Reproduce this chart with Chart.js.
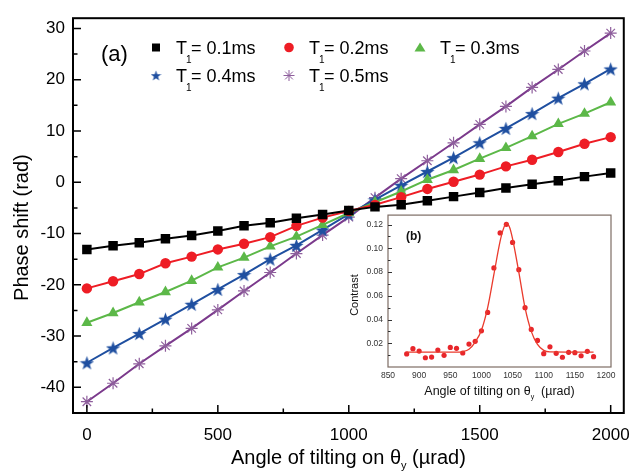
<!DOCTYPE html>
<html>
<head>
<meta charset="utf-8">
<script src="https://cdn.jsdelivr.net/npm/chart.js@4.4.1/dist/chart.umd.min.js"></script>
<style>
  html, body { margin: 0; padding: 0; background: #fff; }
  #wrap { position: relative; width: 642px; height: 471px; }
  #main { position: absolute; left: 0; top: 0; }
  #inset { position: absolute; left: 345px; top: 205px; }
</style>
</head>
<body>
<div id="wrap">
  <canvas id="main" width="642" height="471"></canvas>
  <canvas id="inset" width="275" height="200"></canvas>
</div>
<script>
// ---- main panel (a) data ----
var angles = [0, 100, 200, 300, 400, 500, 600, 700, 800, 900, 1000,
              1100, 1200, 1300, 1400, 1500, 1600, 1700, 1800, 1900, 2000];
var shiftT01 = [-13.1, -12.4, -11.8, -11.0, -10.4, -9.5, -8.5, -7.9, -7.0, -6.3, -5.5,
                -4.8, -4.4, -3.6, -2.8, -2.0, -1.1, -0.4, 0.3, 1.1, 1.8];
var shiftT02 = [-20.7, -19.3, -17.9, -15.8, -14.5, -13.1, -12.0, -10.7, -8.5, -6.9, -5.6,
                -4.4, -2.9, -1.3, 0.1, 1.5, 3.1, 4.4, 5.9, 7.5, 8.8];
var shiftT03 = [-27.4, -25.5, -23.4, -21.4, -19.2, -16.6, -14.7, -12.5, -10.6, -8.3, -6.0,
                -3.9, -1.8, 0.5, 2.4, 4.6, 6.7, 9.0, 11.4, 13.4, 15.6];
var shiftT04 = [-35.2, -32.3, -29.5, -26.7, -23.8, -20.9, -18.0, -15.0, -12.3, -9.3, -6.2,
                -3.4, -0.6, 2.1, 4.8, 7.7, 10.5, 13.4, 16.4, 19.2, 22.1];
var shiftT05 = [-42.8, -39.2, -35.4, -31.9, -28.5, -24.9, -21.2, -17.6, -13.9, -10.3, -6.8,
                -3.0, 0.7, 4.2, 7.7, 11.3, 14.8, 18.5, 22.0, 25.6, 29.1];
var seriesNames = ['0.1ms', '0.2ms', '0.3ms', '0.4ms', '0.5ms'];
var xTicks = [0, 500, 1000, 1500, 2000];
var xMinor = [250, 750, 1250, 1750];
var yTicks = [-40, -30, -20, -10, 0, 10, 20, 30];
var yMinor = [-45, -35, -25, -15, -5, 5, 15, 25];

// ---- inset panel (b) data ----
var insetAngle = [880, 890, 900, 910, 920, 930, 940, 950, 960, 970, 980, 990, 1000, 1010, 1020,
                  1030, 1040, 1050, 1060, 1070, 1080, 1090, 1100, 1110, 1120, 1130, 1140, 1150,
                  1160, 1170, 1180];
var contrast = [0.011, 0.0154, 0.0134, 0.0078, 0.0084, 0.0143, 0.0098, 0.0165, 0.0157, 0.0118,
                0.0193, 0.0216, 0.0305, 0.046, 0.0835, 0.113, 0.1202, 0.105, 0.082, 0.050,
                0.0317, 0.0224, 0.0112, 0.017, 0.0115, 0.0082, 0.0124, 0.0121, 0.0095, 0.0132,
                0.0087];
var fitAngle = [880, 960, 970, 980, 990, 1000, 1010, 1020, 1030, 1035, 1040, 1045, 1050,
                1060, 1070, 1080, 1090, 1100, 1110, 1180];
var fitContrast = [0.0125, 0.0125, 0.013, 0.015, 0.021, 0.031, 0.050, 0.078, 0.106, 0.116,
                   0.121, 0.118, 0.108, 0.080, 0.050, 0.030, 0.019, 0.014, 0.0127, 0.0125];
var insetXTicks = [850, 900, 950, 1000, 1050, 1100, 1150, 1200];
var insetYTicks = [0.02, 0.04, 0.06, 0.08, 0.10, 0.12];
var insetYMinor = [0.01, 0.03, 0.05, 0.07, 0.09, 0.11];

var FONT = "'Liberation Sans', Arial, sans-serif";
var colors = ['#000000', '#ee1d25', '#5cb848', '#1f4fa0', '#7b3a8c'];
var markerColors = ['#000000', '#ee1d25', '#5cb848', '#1f4fa0', '#8e5e9c'];

function starCanvas(color, size) {
  var c = document.createElement('canvas');
  c.width = size; c.height = size;
  var g = c.getContext('2d');
  g.fillStyle = color;
  g.beginPath();
  for (var i = 0; i < 10; i++) {
    var r = (i % 2) ? size * 0.2 : size * 0.5;
    var a = -Math.PI / 2 + i * Math.PI / 5;
    g.lineTo(size / 2 + r * Math.cos(a), size / 2 + r * Math.sin(a) + size * 0.05);
  }
  g.closePath();
  g.fill();
  return c;
}
var bigStar = starCanvas(markerColors[3], 15);
var smallStar = starCanvas(markerColors[3], 11);

function pts(xs, ys) {
  return xs.map(function (x, i) { return { x: x, y: ys[i] }; });
}

var allShifts = [shiftT01, shiftT02, shiftT03, shiftT04, shiftT05];
var styles = ['rect', 'circle', 'triangle', bigStar, 'star'];
var radii = [6.7, 5.2, 6.4, 7, 6];

var datasets = allShifts.map(function (s, i) {
  return {
    label: 'T1= ' + seriesNames[i],
    data: pts(angles, s),
    borderColor: colors[i],
    borderWidth: 2,
    backgroundColor: markerColors[i],
    pointBackgroundColor: markerColors[i],
    pointBorderColor: markerColors[i],
    pointBorderWidth: i == 4 ? 1.2 : 0,
    pointStyle: styles[i],
    pointRadius: radii[i],
    tension: 0
  };
});

// legend drawn inside the plot, with subscripted T1
function drawMarker(ctx, i, x, y) {
  ctx.save();
  ctx.fillStyle = markerColors[i];
  ctx.strokeStyle = markerColors[i];
  ctx.beginPath();
  if (i == 0) {
    ctx.fillRect(x - 4, y - 4, 8, 8);
  } else if (i == 1) {
    ctx.arc(x, y, 4.8, 0, Math.PI * 2); ctx.fill();
  } else if (i == 2) {
    ctx.moveTo(x, y - 5); ctx.lineTo(x + 5.5, y + 4); ctx.lineTo(x - 5.5, y + 4);
    ctx.closePath(); ctx.fill();
  } else if (i == 3) {
    ctx.drawImage(smallStar, x - 5.5, y - 5.5);
  } else {
    ctx.lineWidth = 1;
    var r = 5.5;
    for (var k = 0; k < 4; k++) {
      var a = k * Math.PI / 4;
      ctx.moveTo(x - r * Math.cos(a), y - r * Math.sin(a));
      ctx.lineTo(x + r * Math.cos(a), y + r * Math.sin(a));
    }
    ctx.stroke();
  }
  ctx.restore();
}

var legendPlugin = {
  id: 'insideLegend',
  afterDraw: function (chart) {
    var ctx = chart.ctx;
    var symX = [156, 289, 420];
    var rowY = [47.5, 75.5];
    ctx.save();
    ctx.fillStyle = '#000';
    ctx.textBaseline = 'middle';
    ctx.font = '22px ' + FONT;
    ctx.fillText('(a)', 101, 55);
    for (var i = 0; i < seriesNames.length; i++) {
      var x = symX[i % 3], y = rowY[Math.floor(i / 3)];
      drawMarker(ctx, i, x, y);
      var tx = x + 20, ty = y + 1.5;
      ctx.font = '18px ' + FONT;
      ctx.fillText('T', tx, ty);
      tx += ctx.measureText('T').width - 1;
      ctx.font = '10px ' + FONT;
      ctx.fillText('1', tx, ty + 11);
      tx += ctx.measureText('1').width - 0.5;
      ctx.font = '18px ' + FONT;
      ctx.fillText('= ' + seriesNames[i], tx, ty);
    }
    ctx.restore();
  }
};

// inward tick marks, frame and axis titles
var frameTicks = {
  id: 'frameTicks',
  afterDraw: function (chart) {
    var ctx = chart.ctx, a = chart.chartArea;
    var xs = chart.scales.x, ys = chart.scales.y;
    ctx.save();
    ctx.strokeStyle = '#000';
    ctx.lineWidth = 2;
    ctx.strokeRect(a.left, a.top, a.right - a.left, a.bottom - a.top);
    ctx.lineWidth = 1.5;
    ctx.beginPath();
    xTicks.forEach(function (v) {
      var px = xs.getPixelForValue(v);
      ctx.moveTo(px, a.bottom); ctx.lineTo(px, a.bottom - 8);
    });
    xMinor.forEach(function (v) {
      var px = xs.getPixelForValue(v);
      ctx.moveTo(px, a.bottom); ctx.lineTo(px, a.bottom - 4.5);
    });
    yTicks.forEach(function (v) {
      var py = ys.getPixelForValue(v);
      ctx.moveTo(a.left, py); ctx.lineTo(a.left + 8, py);
    });
    yMinor.forEach(function (v) {
      if (v < ys.min || v > ys.max) return;
      var py = ys.getPixelForValue(v);
      ctx.moveTo(a.left, py); ctx.lineTo(a.left + 4.5, py);
    });
    ctx.stroke();

    // axis titles
    ctx.fillStyle = '#000';
    ctx.textBaseline = 'middle';
    var cx = (a.left + a.right) / 2;
    var p1 = 'Angle of tilting on \u03b8', p2 = ' (\u00b5rad)';
    ctx.font = '11px ' + FONT;
    var wSub = ctx.measureText('y').width;
    ctx.font = '20px ' + FONT;
    var w = ctx.measureText(p1).width + wSub + ctx.measureText(p2).width;
    var tx = cx - w / 2, ty = 458;
    ctx.fillText(p1, tx, ty);
    tx += ctx.measureText(p1).width;
    ctx.font = '11px ' + FONT;
    ctx.fillText('y', tx, ty + 8);
    tx += wSub;
    ctx.font = '20px ' + FONT;
    ctx.fillText(p2, tx, ty);

    ctx.translate(22, (a.top + a.bottom) / 2 + 12);
    ctx.rotate(-Math.PI / 2);
    ctx.textAlign = 'center';
    ctx.fillText('Phase shift (rad)', 0, 0);
    ctx.restore();
  }
};

new Chart(document.getElementById('main'), {
  type: 'line',
  data: { datasets: datasets },
  options: {
    responsive: false,
    animation: false,
    layout: { padding: { top: 8, right: 17, left: 0, bottom: 0 } },
    plugins: { legend: { display: false }, tooltip: { enabled: false } },
    scales: {
      x: {
        type: 'linear',
        min: -53,
        max: 2050,
        afterBuildTicks: function (s) { s.ticks = xTicks.map(function (v) { return { value: v }; }); },
        afterFit: function (s) { s.height = 58; },
        grid: { display: false, drawTicks: false },
        border: { display: false },
        ticks: {
          color: '#000', padding: 12, maxRotation: 0, font: { size: 17, family: FONT },
          callback: function (v) { return String(v); }
        }
      },
      y: {
        min: -45,
        max: 32,
        afterBuildTicks: function (s) { s.ticks = yTicks.map(function (v) { return { value: v }; }); },
        afterFit: function (s) { s.width = 73; },
        grid: { display: false, drawTicks: false },
        border: { display: false },
        ticks: {
          color: '#000', padding: 8, font: { size: 17, family: FONT },
          callback: function (v) { return String(v); }
        }
      }
    }
  },
  plugins: [frameTicks, legendPlugin]
});

// ---- inset (b) ----
var insetFrame = {
  id: 'insetFrame',
  beforeDraw: function (chart) {
    var ctx = chart.ctx, a = chart.chartArea;
    ctx.save();
    ctx.fillStyle = '#fff';
    ctx.fillRect(a.left, a.top, a.right - a.left, a.bottom - a.top);
    ctx.restore();
  },
  afterDraw: function (chart) {
    var ctx = chart.ctx, a = chart.chartArea, ys = chart.scales.y;
    ctx.save();
    ctx.strokeStyle = '#7d6d64';
    ctx.lineWidth = 1.2;
    ctx.strokeRect(a.left, a.top, a.right - a.left, a.bottom - a.top);
    ctx.strokeStyle = '#333';
    ctx.lineWidth = 1;
    ctx.beginPath();
    insetYTicks.forEach(function (v) {
      var py = Math.round(ys.getPixelForValue(v)) + 0.5;
      ctx.moveTo(a.left, py); ctx.lineTo(a.left + 4, py);
    });
    insetYMinor.forEach(function (v) {
      var py = Math.round(ys.getPixelForValue(v)) + 0.5;
      ctx.moveTo(a.left, py); ctx.lineTo(a.left + 2.5, py);
    });
    ctx.stroke();

    ctx.fillStyle = '#111';
    ctx.textBaseline = 'middle';
    ctx.font = 'bold 12px ' + FONT;
    ctx.fillText('(b)', 61, 32);

    var cx = (a.left + a.right) / 2;
    var p1 = 'Angle of tilting on \u03b8', p2 = '  (\u00b5rad)';
    ctx.font = '7px ' + FONT;
    var wSub = ctx.measureText('y').width;
    ctx.font = '12.5px ' + FONT;
    var w = ctx.measureText(p1).width + wSub + ctx.measureText(p2).width;
    var tx = cx - w / 2, ty = 187;
    ctx.fillText(p1, tx, ty);
    tx += ctx.measureText(p1).width;
    ctx.font = '7px ' + FONT;
    ctx.fillText('y', tx, ty + 5);
    tx += wSub;
    ctx.font = '12.5px ' + FONT;
    ctx.fillText(p2, tx, ty);

    ctx.translate(10, (a.top + a.bottom) / 2 + 4);
    ctx.rotate(-Math.PI / 2);
    ctx.textAlign = 'center';
    ctx.font = '11px ' + FONT;
    ctx.fillText('Contrast', 0, 0);
    ctx.restore();
  }
};

new Chart(document.getElementById('inset'), {
  type: 'line',
  data: {
    datasets: [
      {
        label: 'fit',
        data: pts(fitAngle, fitContrast),
        borderColor: '#ea3a2c',
        borderWidth: 1.3,
        pointRadius: 0,
        cubicInterpolationMode: 'monotone'
      },
      {
        label: 'data',
        data: pts(insetAngle, contrast),
        showLine: false,
        pointRadius: 2.6,
        pointBorderWidth: 0,
        pointBackgroundColor: '#e8262b'
      }
    ]
  },
  options: {
    responsive: false,
    animation: false,
    layout: { padding: { top: 10, right: 9, left: 0, bottom: 0 } },
    plugins: { legend: { display: false }, tooltip: { enabled: false } },
    scales: {
      x: {
        type: 'linear',
        min: 850,
        max: 1208,
        afterBuildTicks: function (s) { s.ticks = insetXTicks.map(function (v) { return { value: v }; }); },
        afterFit: function (s) { s.height = 38; },
        grid: { display: false, drawTicks: false },
        border: { display: false },
        ticks: {
          color: '#333', padding: 4, maxRotation: 0, font: { size: 8.5, family: FONT },
          callback: function (v) { return String(v); }
        }
      },
      y: {
        min: 0,
        max: 0.128,
        afterBuildTicks: function (s) { s.ticks = insetYTicks.map(function (v) { return { value: v }; }); },
        afterFit: function (s) { s.width = 43; },
        grid: { display: false, drawTicks: false },
        border: { display: false },
        ticks: {
          color: '#333', padding: 5, font: { size: 8.5, family: FONT },
          callback: function (v) { return v.toFixed(2); }
        }
      }
    }
  },
  plugins: [insetFrame]
});
</script>
</body>
</html>
